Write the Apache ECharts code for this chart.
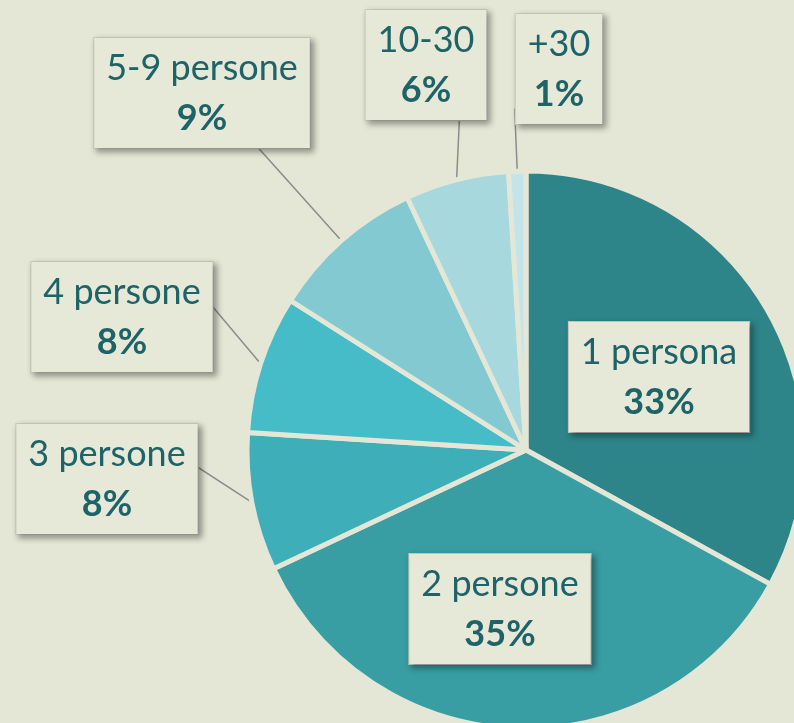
<!DOCTYPE html>
<html>
<head>
<meta charset="utf-8">
<script src="https://cdn.jsdelivr.net/npm/echarts@6/dist/echarts.min.js"></script>
<style>
  html, body { margin: 0; padding: 0; background: #e5e7d6; }
  #chart { width: 794px; height: 723px; }
</style>
</head>
<body>
<div id="chart"></div>
<script>
// categorie e percentuali
const categories = ['1 persona', '2 persone', '3 persone', '4 persone', '5-9 persone', '10-30', '+30'];
const values = [33, 35, 8, 8, 9, 6, 1];
const colors = ['#2e8589', '#389ea4', '#3eaeb8', '#46bcc8', '#82c9d2', '#a6d8de', '#c3e4eb'];
const insideLabels = ['1 persona', '2 persone'];

// centro dei riquadri etichetta
const labelCenters = [
  [659, 377], [500, 609], [107, 479], [122, 317], [202, 93], [426, 65], [559, 69]
];
// punto di aggancio della linea nel riquadro (frazioni di larghezza/altezza): fine x, fine y, gomito x, gomito y
const lineAnchors = [
  null, null,
  [0.957, 0.4, 1.0, 0.4],
  [0.946, 0.4, 0.99, 0.4],
  [0.628, 0.818, 0.688, 0.836],
  [0.777, 0.864, 0.777, 0.864],
  [0.10, 0.86, 0.0, 0.86]
];

const myChart = echarts.init(document.getElementById('chart'));

const option = {
  backgroundColor: '#e5e7d6',
  animation: false,
  series: [
    {
      type: 'pie',
      center: [526, 450],
      radius: 279,
      startAngle: 90,
      clockwise: true,
      avoidLabelOverlap: false,
      itemStyle: {
        borderColor: '#e5e7d6',
        borderWidth: 5
      },
      label: {
        show: true,
        position: 'outside',
        formatter: '{n|{b}}\n{p|{d}%}',
        backgroundColor: '#e6e8d8',
        borderColor: '#c9cbbd',
        borderWidth: 1,
        padding: [5, 12, 5, 12],
        shadowColor: 'rgba(0,0,0,0.35)',
        shadowBlur: 6,
        shadowOffsetX: 3,
        shadowOffsetY: 3,
        rich: {
          n: {
            fontFamily: 'Lato',
            fontSize: 36,
            color: '#1e6367',
            lineHeight: 50,
            align: 'center'
          },
          p: {
            fontFamily: 'Lato',
            fontSize: 36,
            fontWeight: 'bold',
            color: '#1e6367',
            lineHeight: 50,
            align: 'center'
          }
        }
      },
      labelLine: {
        show: true,
        length: 20,
        length2: 10,
        lineStyle: { color: '#8c8c8c', width: 1.5 }
      },
      labelLayout: function (params) {
        const i = params.dataIndex;
        const c = labelCenters[i];
        const w = params.labelRect.width;
        const h = params.labelRect.height;
        const res = { x: c[0], y: c[1], align: 'center', verticalAlign: 'middle' };
        const a = lineAnchors[i];
        if (a && params.labelLinePoints) {
          const x0 = c[0] - w / 2;
          const y0 = c[1] - h / 2;
          res.labelLinePoints = [
            params.labelLinePoints[0],
            [x0 + a[2] * w, y0 + a[3] * h],
            [x0 + a[0] * w, y0 + a[1] * h]
          ];
        }
        return res;
      },
      data: categories.map(function (name, i) {
        const item = { name: name, value: values[i], itemStyle: { color: colors[i] } };
        if (insideLabels.indexOf(name) >= 0) {
          item.labelLine = { show: false };
        }
        return item;
      })
    }
  ]
};

myChart.setOption(option);
</script>
</body>
</html>
